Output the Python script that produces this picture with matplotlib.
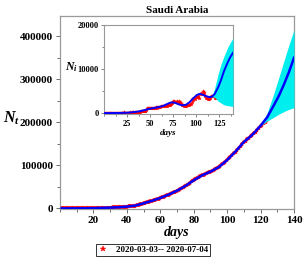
import numpy as np
import matplotlib
matplotlib.use("Agg")
import matplotlib.pyplot as plt
from matplotlib.ticker import MultipleLocator

# ---------------- data ----------------
title = "Saudi Arabia"
legend_label = "2020-03-03-- 2020-07-04"

# cumulative confirmed cases, day 1 = 2020-03-03 ... day 124 = 2020-07-04
cumulative_cases = [
    1, 1, 5, 5, 5, 11, 15, 20, 21, 45, 86, 103, 118, 133, 171, 238, 274, 344,
    392, 511, 562, 767, 900, 1012, 1104, 1203, 1299, 1453, 1563,
    1720, 1885, 2039, 2179, 2402, 2605, 2795, 2932, 3287, 3651, 4033, 4462,
    4934, 5369, 5862, 6380, 7142, 8274, 9362, 10484, 11631, 12772, 13930,
    15102, 16299, 17522, 18811, 20077, 21402, 22753,
    24097, 25459, 27011, 28656, 30251, 31938, 33731, 35432, 37136, 39048,
    41014, 42925, 44830, 46869, 49176, 52016, 54752, 57345, 59854, 62545,
    65077, 67719, 70161, 72560, 74795, 76726, 78541, 80185, 81766, 83384, 85261,
    87142, 89011, 91182, 93157, 95748, 98869, 101914, 105283, 108571, 112288,
    116021, 119942, 123308, 127541, 132048, 136315, 141234, 145991, 150292,
    154233, 157612, 161005, 164144, 167267, 170639, 174577, 178504, 182493,
    186436, 190823,
    194225, 197608, 201801, 205929,
]

# fitted cumulative curve
nt_fit_days = [1, 5, 10, 15, 20, 25, 30, 35, 40, 45, 50, 55, 60, 65, 70, 75,
               80, 85, 90, 95, 100, 105, 110, 115, 120, 124, 128, 131, 134,
               137, 140]
nt_fit = [1, 5, 45, 171, 511, 1104, 1720, 2605, 4033, 6380, 11631, 17522,
          24097, 31938, 41014, 52016, 65077, 76726, 85261, 95748, 112288,
          132048, 154233, 170639, 192000, 212000, 240000, 262000, 288000,
          317000, 350000]
# prediction band (cumulative)
nt_band_days = [120, 124, 128, 131, 134, 137, 140]
nt_upper = [192000, 222000, 268000, 305000, 343000, 380000, 415000]
nt_lower = [192000, 203000, 212000, 219000, 225000, 230000, 234000]

# fitted daily curve
ni_fit_days = [1, 10, 20, 25, 30, 35, 40, 45, 50, 55, 60, 65, 70, 73, 77, 81,
               85, 89, 93, 97, 101, 104, 107, 110, 114, 117, 120, 124, 127,
               130, 134, 137, 140]
ni_fit = [0, 20, 60, 100, 180, 300, 480, 750, 1000, 1200, 1400, 1700, 2200,
          2450, 2350, 2000, 1750, 1900, 2500, 3400, 4150, 4350, 4200, 3900,
          3650, 3700, 4300, 5900, 7500, 9400, 11400, 12700, 13700]
ni_band_days = [117, 120, 124, 127, 130, 134, 137, 140]
ni_upper = [3700, 5600, 9000, 11100, 12800, 14800, 16000, 17000]
ni_lower = [3700, 3600, 2700, 2300, 1900, 1700, 1600, 1500]

# ---------------- plot ----------------
days = np.arange(1, len(cumulative_cases) + 1)
cum = np.array(cumulative_cases)
daily = np.diff(np.concatenate([[0], cum]))

serif = ["Liberation Serif", "DejaVu Serif"]
plt.rcParams["font.family"] = serif
plt.rcParams["font.weight"] = "bold"
plt.rcParams["mathtext.fontset"] = "custom"
plt.rcParams["mathtext.it"] = "Liberation Serif:italic:bold"
plt.rcParams["mathtext.rm"] = "Liberation Serif:bold"

W, H = 305, 260
fig = plt.figure(figsize=(W / 100, H / 100), dpi=100)

def rect(l, t, r, b):
    return [l / W, 1 - b / H, (r - l) / W, (b - t) / H]

RED = "#ff0000"
BLUE = "#0000ff"
CYAN = "#00eeee"
FRAME = "#999999"

ax = fig.add_axes(rect(60, 16, 294, 209))
ax.plot(days, cum, linestyle="none", marker="*", markersize=3.6,
        color=RED, markeredgewidth=0.3, zorder=2, label=legend_label)
ax.fill_between(nt_band_days, nt_lower, nt_upper, color=CYAN, lw=0, zorder=3)
ax.plot(nt_fit_days, nt_fit, color=BLUE, lw=1.8, zorder=4)
ax.set_xlim(0, 140)
ax.set_ylim(-1500, 447000)
ax.set_xticks([20, 40, 60, 80, 100, 120, 140])
ax.set_yticks([0, 100000, 200000, 300000, 400000])
ax.xaxis.set_minor_locator(MultipleLocator(10))
ax.yaxis.set_minor_locator(MultipleLocator(50000))
ax.tick_params(which="both", direction="out", color="#555555", labelsize=8,
               width=0.6, pad=2)
ax.tick_params(which="major", length=3)
ax.tick_params(which="minor", length=2)
for lab in ax.get_xticklabels() + ax.get_yticklabels():
    lab.set_fontweight("bold")
for s in ax.spines.values():
    s.set_color(FRAME)
    s.set_linewidth(0.9)
ax.set_title(title, fontsize=8, fontweight="bold", pad=2)
ax.set_xlabel("days", fontsize=10, fontstyle="italic", fontweight="bold",
              labelpad=1)
fig.text(12 / W, 1 - 118 / H, r"$N_t$", fontsize=11.5, ha="center",
         va="center")

# inset
ax2 = fig.add_axes(rect(104, 25, 233, 114))
ax2.plot(days, daily, linestyle="none", marker="*", markersize=2.6,
         color=RED, markeredgewidth=0.3, zorder=2)
ax2.fill_between(ni_band_days, ni_lower, ni_upper, color=CYAN, lw=0, zorder=3)
ax2.plot(ni_fit_days, ni_fit, color=BLUE, lw=1.4, zorder=4)
ax2.set_xlim(0, 140)
ax2.set_ylim(-200, 20000)
ax2.set_xticks([25, 50, 75, 100, 125])
ax2.set_yticks([0, 10000, 20000])
ax2.xaxis.set_minor_locator(MultipleLocator(12.5))
ax2.yaxis.set_minor_locator(MultipleLocator(5000))
ax2.tick_params(which="both", direction="out", color="#555555", labelsize=6,
                width=0.5, pad=1.5)
ax2.tick_params(which="major", length=2.5)
ax2.tick_params(which="minor", length=1.5)
for lab in ax2.get_xticklabels() + ax2.get_yticklabels():
    lab.set_fontweight("bold")
for s in ax2.spines.values():
    s.set_color(FRAME)
    s.set_linewidth(0.8)
ax2.set_xlabel("days", fontsize=6.5, fontstyle="italic", fontweight="bold",
               labelpad=1)
fig.text(71 / W, 1 - 67 / H, r"$N_i$", fontsize=8.5, ha="center",
         va="center")

leg = fig.legend(loc="center", bbox_to_anchor=(153 / W, 1 - 250 / H),
                 frameon=True, fancybox=False, fontsize=6.5,
                 handlelength=1.2, handletextpad=0.8, borderpad=0.2,
                 borderaxespad=0, markerscale=1.1)
leg.get_frame().set_edgecolor("black")
leg.get_frame().set_linewidth(0.7)
for t in leg.get_texts():
    t.set_fontweight("bold")

fig.savefig("out.png", dpi=100)
